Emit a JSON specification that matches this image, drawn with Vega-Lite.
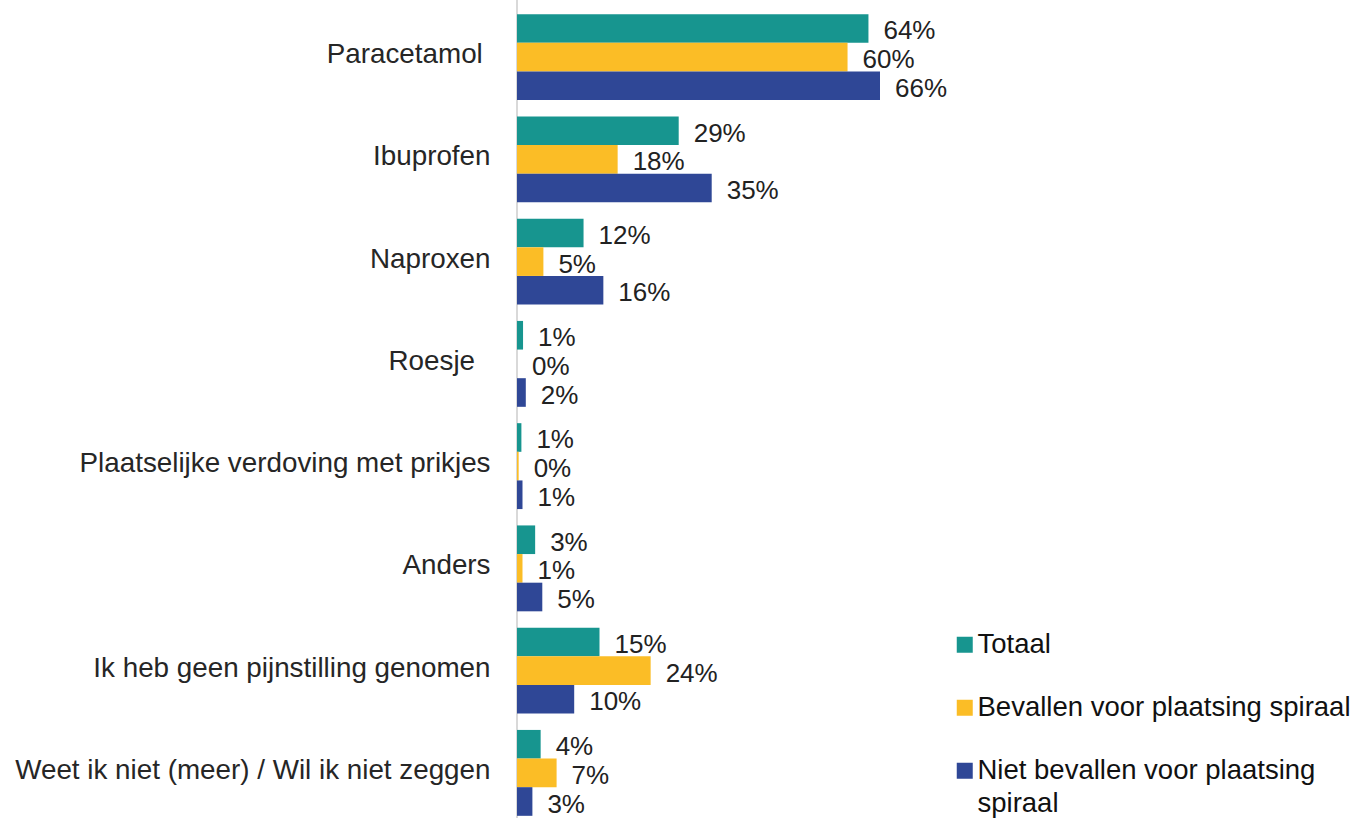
{
  "$schema": "https://vega.github.io/schema/vega-lite/v6.json",
  "width": 385,
  "height": 818,
  "autosize": {"type": "none"},
  "padding": {"left": 517, "top": 0, "right": 455, "bottom": 0},
  "background": "white",
  "config": {
    "view": {"stroke": null},
    "font": "Liberation Sans",
    "style": {"guide-label": {"lineHeight": 33}}
  },
  "data": {
    "values": [
      {"cat": "Paracetamol\u00a0\u200b", "series": "Totaal", "value": 63.9, "label": "64%"},
      {"cat": "Paracetamol\u00a0\u200b", "series": "Bevallen voor plaatsing spiraal", "value": 60.1, "label": "60%"},
      {"cat": "Paracetamol\u00a0\u200b", "series": "Niet bevallen voor plaatsing spiraal", "value": 66.0, "label": "66%"},
      {"cat": "Ibuprofen", "series": "Totaal", "value": 29.4, "label": "29%"},
      {"cat": "Ibuprofen", "series": "Bevallen voor plaatsing spiraal", "value": 18.3, "label": "18%"},
      {"cat": "Ibuprofen", "series": "Niet bevallen voor plaatsing spiraal", "value": 35.4, "label": "35%"},
      {"cat": "Naproxen", "series": "Totaal", "value": 12.1, "label": "12%"},
      {"cat": "Naproxen", "series": "Bevallen voor plaatsing spiraal", "value": 4.8, "label": "5%"},
      {"cat": "Naproxen", "series": "Niet bevallen voor plaatsing spiraal", "value": 15.7, "label": "16%"},
      {"cat": "Roesje\u00a0\u00a0\u200b", "series": "Totaal", "value": 1.1, "label": "1%"},
      {"cat": "Roesje\u00a0\u00a0\u200b", "series": "Bevallen voor plaatsing spiraal", "value": 0, "label": "0%"},
      {"cat": "Roesje\u00a0\u00a0\u200b", "series": "Niet bevallen voor plaatsing spiraal", "value": 1.6, "label": "2%"},
      {"cat": "Plaatselijke verdoving met prikjes", "series": "Totaal", "value": 0.8, "label": "1%"},
      {"cat": "Plaatselijke verdoving met prikjes", "series": "Bevallen voor plaatsing spiraal", "value": 0.3, "label": "0%"},
      {"cat": "Plaatselijke verdoving met prikjes", "series": "Niet bevallen voor plaatsing spiraal", "value": 1.0, "label": "1%"},
      {"cat": "Anders", "series": "Totaal", "value": 3.3, "label": "3%"},
      {"cat": "Anders", "series": "Bevallen voor plaatsing spiraal", "value": 1.0, "label": "1%"},
      {"cat": "Anders", "series": "Niet bevallen voor plaatsing spiraal", "value": 4.6, "label": "5%"},
      {"cat": "Ik heb geen pijnstilling genomen", "series": "Totaal", "value": 15.0, "label": "15%"},
      {"cat": "Ik heb geen pijnstilling genomen", "series": "Bevallen voor plaatsing spiraal", "value": 24.3, "label": "24%"},
      {"cat": "Ik heb geen pijnstilling genomen", "series": "Niet bevallen voor plaatsing spiraal", "value": 10.4, "label": "10%"},
      {"cat": "Weet ik niet (meer) / Wil ik niet zeggen", "series": "Totaal", "value": 4.3, "label": "4%"},
      {"cat": "Weet ik niet (meer) / Wil ik niet zeggen", "series": "Bevallen voor plaatsing spiraal", "value": 7.2, "label": "7%"},
      {"cat": "Weet ik niet (meer) / Wil ik niet zeggen", "series": "Niet bevallen voor plaatsing spiraal", "value": 2.8, "label": "3%"}
    ]
  },
  "encoding": {
    "y": {
      "field": "cat",
      "type": "nominal",
      "sort": null,
      "scale": {"range": [6, 824], "paddingInner": 0.16, "paddingOuter": 0.08},
      "axis": {
        "title": null,
        "domain": false,
        "ticks": false,
        "labelFontSize": 27.8,
        "labelColor": "#262626",
        "labelPadding": 27,
        "labelOffset": -2,
        "labelLimit": 520,
        "labelFont": "Liberation Sans"
      }
    }
  },
  "layer": [
    {
      "mark": {"type": "rule", "color": "#d9d9d9", "strokeWidth": 2},
      "encoding": {
        "x": {"datum": 0, "type": "quantitative", "axis": null},
        "y": null
      }
    },
    {
      "mark": {"type": "bar"},
      "encoding": {
        "x": {"field": "value", "type": "quantitative", "scale": {"domain": [0, 70], "nice": false}, "axis": null},
        "yOffset": {
          "field": "series",
          "type": "nominal",
          "sort": ["Totaal", "Bevallen voor plaatsing spiraal", "Niet bevallen voor plaatsing spiraal"],
          "scale": {"paddingInner": 0, "paddingOuter": 0}
        },
        "color": {
          "field": "series",
          "type": "nominal",
          "scale": {
            "domain": ["Totaal", "Bevallen voor plaatsing spiraal", "Niet bevallen voor plaatsing spiraal"],
            "range": ["#17958f", "#fbbd26", "#2f4796"]
          },
          "legend": {
            "title": null,
            "orient": "none",
            "legendX": 434,
            "legendY": 631,
            "padding": 0,
            "symbolType": "square",
            "symbolSize": 256,
            "symbolStrokeWidth": 0,
            "labelFontSize": 27.5,
            "labelFont": "Liberation Sans",
            "labelColor": "#111111",
            "labelOffset": -1,
            "rowPadding": 34,
            "labelLimit": 420,
            "labelExpr": "datum.label == 'Niet bevallen voor plaatsing spiraal' ? ['Niet bevallen voor plaatsing', 'spiraal'] : datum.label"
          }
        }
      }
    },
    {
      "mark": {"type": "text", "align": "left", "baseline": "middle", "dx": 15, "dy": 3, "fontSize": 26, "color": "#222222", "font": "Liberation Sans"},
      "encoding": {
        "x": {"field": "value", "type": "quantitative"},
        "yOffset": {
          "field": "series",
          "type": "nominal",
          "sort": ["Totaal", "Bevallen voor plaatsing spiraal", "Niet bevallen voor plaatsing spiraal"]
        },
        "text": {"field": "label"}
      }
    }
  ]
}
